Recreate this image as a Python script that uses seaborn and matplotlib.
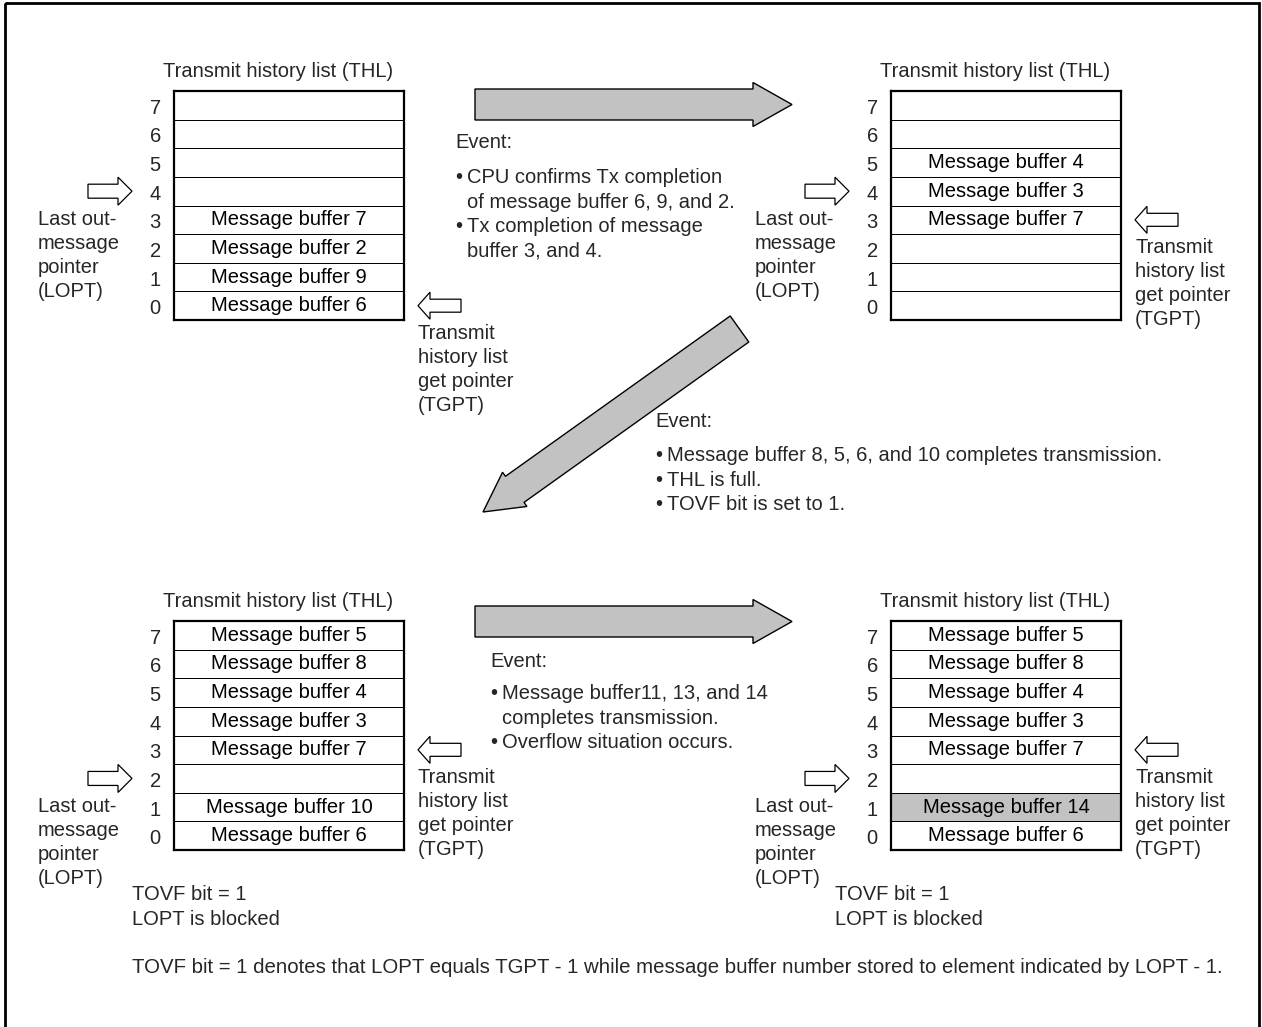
import numpy as np
import matplotlib
matplotlib.use("Agg")
import matplotlib.pyplot as plt
from matplotlib.colors import ListedColormap
from matplotlib.patches import FancyArrow, Rectangle
from matplotlib.transforms import ScaledTranslation
import seaborn as sns

# THL contents per state, element 0..7
thl_before = ["Message buffer 6", "Message buffer 9", "Message buffer 2", "Message buffer 7", "", "", "", ""]
thl_after_confirm = ["", "", "", "Message buffer 7", "Message buffer 3", "Message buffer 4", "", ""]
thl_full = ["Message buffer 6", "Message buffer 10", "", "Message buffer 7",
            "Message buffer 3", "Message buffer 4", "Message buffer 8", "Message buffer 5"]
thl_overflow = ["Message buffer 6", "Message buffer 14", "", "Message buffer 7",
                "Message buffer 3", "Message buffer 4", "Message buffer 8", "Message buffer 5"]
elements = [0, 1, 2, 3, 4, 5, 6, 7]
lopt_pos = [4, 4, 2, 2]
tgpt_pos = [0, 3, 3, 3]
highlight_pos = [None, None, None, 1]

title_text = "Transmit history list (THL)"
lopt_label = ["Last out-", "message", "pointer", "(LOPT)"]
tgpt_label = ["Transmit", "history list", "get pointer", "(TGPT)"]
tovf_label = ["TOVF bit = 1", "LOPT is blocked"]

event1 = ["Event:", "•CPU confirms Tx completion", "of message buffer 6, 9, and 2.",
          "•Tx completion of message", "buffer 3, and 4."]
event2 = ["Event:", "•Message buffer 8, 5, 6, and 10 completes transmission.",
          "•THL is full.", "•TOVF bit is set to 1."]
event3 = ["Event:", "•Message buffer11, 13, and 14", "completes transmission.",
          "•Overflow situation occurs."]
footnote = ("TOVF bit = 1 denotes that LOPT equals TGPT - 1 while message buffer "
            "number stored to element indicated by LOPT - 1.")

sns.set_style("white")
plt.rcParams['font.family'] = ['Liberation Sans', 'DejaVu Sans']

W, H = 1262, 1027
FS = 14.5
GRAY = '#c2c2c2'
BOX_W, BOX_H = 230, 229
ROW_H = BOX_H / 8

fig = plt.figure(figsize=(W / 100, H / 100), dpi=100)
ax = fig.add_axes([0, 0, 1, 1])
ax.set_xlim(0, W)
ax.set_ylim(H, 0)
ax.axis('off')

# outer frame
ax.add_patch(Rectangle((5, 3), 1254, 1040, fill=False, ec='black', lw=2.0))


def put_lines(x, y0, lines, step=24):
    for i, s in enumerate(lines):
        ax.text(x, y0 + i * step, s, fontsize=FS, ha='left', va='baseline')


def put_event(x, y_event, y_first, lines, step=24.5):
    ax.text(x, y_event, lines[0], fontsize=FS, ha='left', va='baseline')
    for i, s in enumerate(lines[1:]):
        y = y_first + i * step
        if s.startswith('•'):
            ax.text(x, y, '•', fontsize=FS, ha='left', va='baseline')
            ax.text(x + 12, y, s[1:], fontsize=FS, ha='left', va='baseline')
        else:
            ax.text(x + 12, y, s, fontsize=FS, ha='left', va='baseline')


def row_center(top, idx):
    return top + (7 - idx + 0.5) * ROW_H


def draw_thl(left, top, contents, lopt, tgpt, hl, tovf_x=None):
    axh = fig.add_axes([left / W, 1 - (top + BOX_H) / H, BOX_W / W, BOX_H / H])
    rows = elements[::-1]
    vals = np.array([[1 if r == hl else 0] for r in rows])
    annot = np.array([[contents[r]] for r in rows])
    sns.heatmap(vals, ax=axh, cmap=ListedColormap(['white', GRAY]), vmin=0, vmax=1,
                cbar=False, annot=annot, fmt='', linewidths=0.7, linecolor='black',
                annot_kws={'fontsize': FS, 'color': 'black'},
                xticklabels=False, yticklabels=rows)
    axh.tick_params(left=False, bottom=False, labelsize=FS, pad=6)
    for lbl in axh.get_yticklabels():
        lbl.set_rotation(0)
        lbl.set_transform(lbl.get_transform() + ScaledTranslation(0, -3 / 100, fig.dpi_scale_trans))
    for sp in axh.spines.values():
        sp.set_visible(True)
        sp.set_linewidth(1.6)
        sp.set_color('black')

    ax.text(left + 104, top - 14, title_text, fontsize=FS, ha='center', va='baseline')

    # LOPT pointer (hollow arrow pointing right)
    yl = row_center(top, lopt)
    ax.add_patch(FancyArrow(left - 86, yl, 44, 0, width=14, head_width=28, head_length=14,
                            length_includes_head=True, fc='white', ec='black', lw=0.9))
    put_lines(left - 136, yl + 34, lopt_label)

    # TGPT pointer (hollow arrow pointing left)
    yt = row_center(top, tgpt)
    ax.add_patch(FancyArrow(left + BOX_W + 57, yt, -43, 0, width=13, head_width=27, head_length=12,
                            length_includes_head=True, fc='white', ec='black', lw=0.9))
    put_lines(left + BOX_W + 14, yt + 33, tgpt_label)

    if tovf_x is not None:
        put_lines(tovf_x, top + BOX_H + 50, tovf_label, step=25)


draw_thl(174, 91, thl_before, lopt_pos[0], tgpt_pos[0], highlight_pos[0])
draw_thl(891, 91, thl_after_confirm, lopt_pos[1], tgpt_pos[1], highlight_pos[1])
draw_thl(174, 621, thl_full, lopt_pos[2], tgpt_pos[2], highlight_pos[2], tovf_x=132)
draw_thl(891, 621, thl_overflow, lopt_pos[3], tgpt_pos[3], highlight_pos[3], tovf_x=835)

# big gray transition arrows
ax.add_patch(FancyArrow(475, 104.5, 317, 0, width=31, head_width=44, head_length=39,
                        length_includes_head=True, fc=GRAY, ec='black', lw=1.0))
ax.add_patch(FancyArrow(475, 621.5, 317, 0, width=31, head_width=44, head_length=39,
                        length_includes_head=True, fc=GRAY, ec='black', lw=1.0))
ax.add_patch(FancyArrow(739.5, 329, 483 - 739.5, 512 - 329, width=32, head_width=42, head_length=39,
                        length_includes_head=True, fc=GRAY, ec='black', lw=1.0))

put_event(455, 148, 183, event1)
put_event(655, 427, 461, event2)
put_event(490, 667, 699, event3)

ax.text(132, 973, footnote, fontsize=14.65, ha='left', va='baseline')

fig.savefig('out.png', dpi=100)
